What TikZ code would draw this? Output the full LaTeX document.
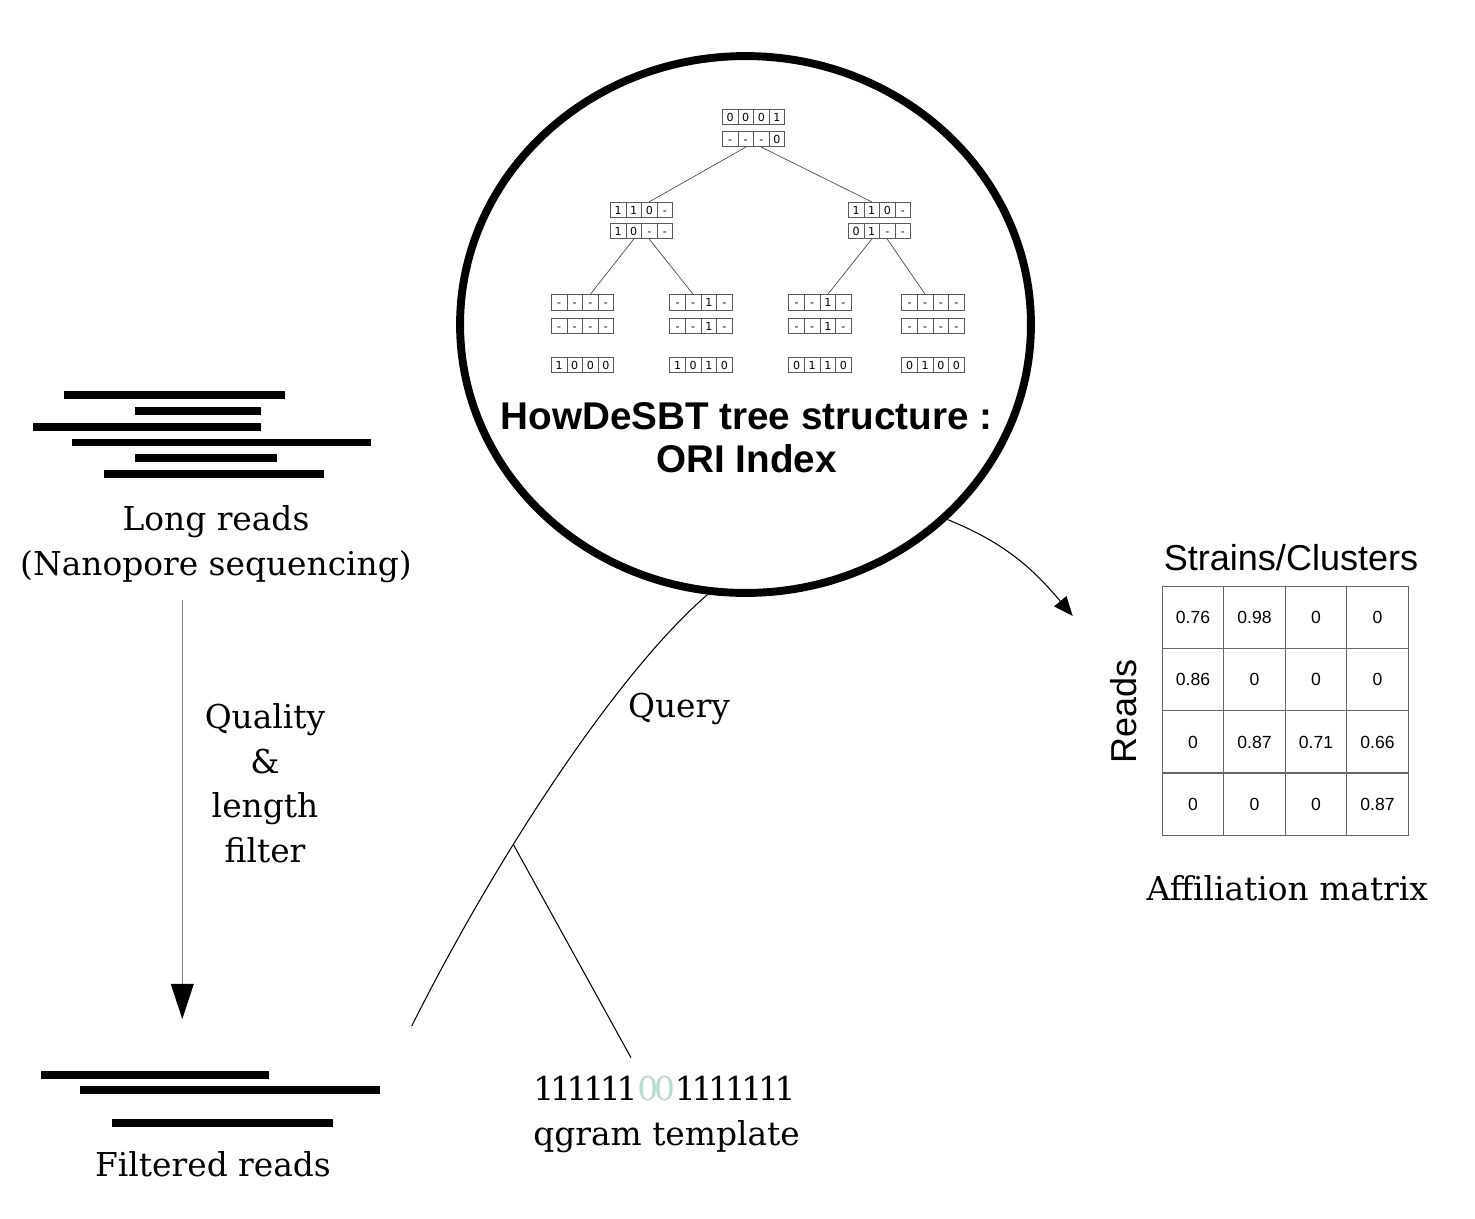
\documentclass[tikz,border=0pt]{standalone}
\usepackage{fontspec}
\setmainfont{DejaVu Serif}
\newfontfamily\labelsans{Liberation Sans}
\newfontfamily\cellsans{DejaVu Sans}
\newfontfamily\qgramfont[LetterSpace=-13]{DejaVu Serif}
\usetikzlibrary{shapes.geometric,arrows.meta}
\definecolor{mint}{RGB}{178,222,205}

% one register of the tree : name, x centre, y centre, four bits
\newcommand\bitrow[4]{%
  \foreach \bitv [count=\k] in {#4}
    \node[bit] (#1-\k) at ({#2+(\k-2.5)*15.6},#3) {\bitv};}

\begin{document}
\begin{tikzpicture}[x=0.02cm,y=-0.02cm,
    bit/.style={draw=gray!70!black,line width=0.4pt,minimum width=0.312cm,minimum height=0.312cm,
      inner sep=0pt,text height=4.6pt,text depth=0pt,font=\cellsans\fontsize{6.3}{7}\selectfont},
    mcell/.style={draw=gray!80!black,line width=0.6pt,minimum width=1.23cm,minimum height=1.242cm,
      inner sep=0pt,font=\labelsans\fontsize{10}{12}\selectfont},
    txt/.style={font=\fontsize{18.7}{25.5}\selectfont,inner sep=0pt},
    sans/.style={font=\labelsans\fontsize{20.5}{24}\selectfont,inner sep=0pt},
    read/.style={line width=4.5pt},
    link/.style={line width=0.6pt}]
	\useasboundingbox (0,0) rectangle (1475,1218);
	% long reads
	\foreach \a/\b/\y in {64/285/395,135/261/411,33/261/427,72/371/442.5,135/277/458,104/324/474}
		\draw[read] (\a,\y) -- (\b,\y);
	\node[txt,align=center,anchor=north] (lr) at (216,505) {Long reads\\(Nanopore sequencing)};
	% filter
	\coordinate (ftop) at (182.3,600);
	\coordinate (fbot) at (182.3,1019);
	\draw[gray,line width=0.5pt,-{Triangle[length=20pt,width=13pt,color=black]}] (ftop) -- (fbot);
	\node[txt,align=center,anchor=north] (qf) at (265,703) {Quality\\\&\\length\\filter};
	\foreach \a/\b/\y in {41/269/1075,80/380/1090,112/333/1123}
		\draw[read] (\a,\y) -- (\b,\y);
	\node[txt,anchor=base] (fr) at (213,1176.5) {Filtered reads};
	% index
	\node[draw,ellipse,line width=4.5pt,minimum width=11.42cm,minimum height=10.74cm,inner sep=0pt] (ori) at (745.5,324.5) {};
	\bitrow{r1}{753.5}{117}{0,0,0,1}
	\bitrow{r2}{753.5}{139}{-,-,-,0}
	\bitrow{L1}{641.5}{210}{1,1,0,-}
	\bitrow{L2}{641.5}{231}{1,0,-,-}
	\bitrow{R1}{879.5}{210}{1,1,0,-}
	\bitrow{R2}{879.5}{231}{0,1,-,-}
	\bitrow{A1}{582.5}{302.5}{-,-,-,-}
	\bitrow{A2}{582.5}{326}{-,-,-,-}
	\bitrow{A3}{582.5}{365}{1,0,0,0}
	\bitrow{B1}{701}{302.5}{-,-,1,-}
	\bitrow{B2}{701}{326}{-,-,1,-}
	\bitrow{B3}{701}{365}{1,0,1,0}
	\bitrow{C1}{820}{302.5}{-,-,1,-}
	\bitrow{C2}{820}{326}{-,-,1,-}
	\bitrow{C3}{820}{365}{0,1,1,0}
	\bitrow{D1}{933}{302.5}{-,-,-,-}
	\bitrow{D2}{933}{326}{-,-,-,-}
	\bitrow{D3}{933}{365}{0,1,0,0}
	\draw[gray!60!black,line width=0.4pt] (r2-2.south) -- (L1-3.north) (r2-3.south) -- (R1-2.north)
		(L2-2.south) -- (A1-3.north) (L2-3.south) -- (B1-2.north)
		(R2-2.south) -- (C1-3.north) (R2-3.south) -- (D1-2.north);
	\node[font=\labelsans\bfseries\fontsize{22}{24.4}\selectfont,align=center,anchor=north,inner sep=0pt] (title) at (746.5,402) {HowDeSBT tree structure :\\ORI Index};
	% query
	\coordinate (qend) at (411.7,1026);
	\coordinate (tend) at (631,1057.7);
	\draw[link] (ori.262) .. controls (620,670) and (500,850) .. (qend) coordinate[pos=0.65] (fork);
	\draw[link] (fork) -- (tend);
	\node[txt,anchor=base] (query) at (679,717.5) {Query};
	\node[txt,align=left,anchor=north west] (tmpl) at (533,1076) {{\qgramfont 111111{\color{mint}00}1111111}\\qgram template};
	% affiliation matrix
	\coordinate (mtip) at (1072.7,616);
	\draw[link,-{Triangle[length=11pt,width=9pt]}] (ori.316) to[out=-22,in=130] (mtip);
	\foreach \row [count=\r] in {{0.76,0.98,0,0},{0.86,0,0,0},{0,0.87,0.71,0.66},{0,0,0,0.87}}
		\foreach \v [count=\c] in \row
			\node[mcell] (m-\r-\c) at ({1162.3+(\c-0.5)*61.5},{586.7+(\r-0.5)*62.1}) {\v};
	\node[sans,anchor=base] (strains) at (1291,570) {Strains/Clusters};
	\node[sans,rotate=90,anchor=base] (reads) at (1136.7,711.7) {Reads};
	\node[txt,anchor=base] (aff) at (1287.3,900) {Affiliation matrix};
\end{tikzpicture}
\end{document}
